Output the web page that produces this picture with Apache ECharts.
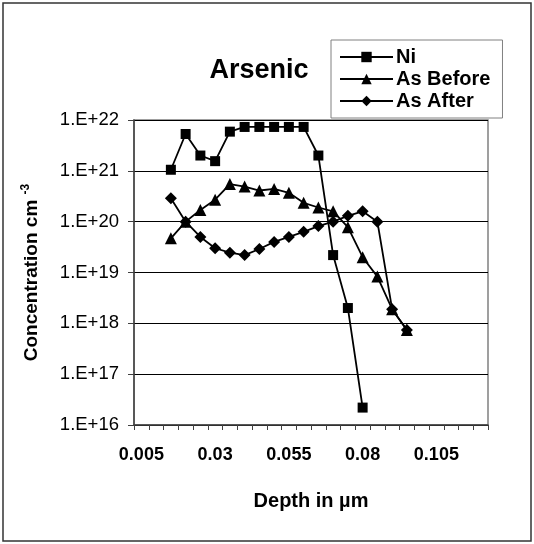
<!DOCTYPE html>
<html>
<head>
<meta charset="utf-8">
<script src="https://cdn.jsdelivr.net/npm/echarts@6/dist/echarts.min.js"></script>
<style>
  html, body { margin: 0; padding: 0; background: #fff; }
  #chart { width: 534px; height: 544px; }
</style>
</head>
<body>
<div id="chart"></div>
<script>
// depth categories (Excel-style category axis, 0.005 step)
const depths = ['0.005','0.01','0.015','0.02','0.025','0.03','0.035','0.04','0.045','0.05',
  '0.055','0.06','0.065','0.07','0.075','0.08','0.085','0.09','0.095','0.1',
  '0.105','0.11','0.115','0.12'];

const ni = [null, null, 1.05e21, 5.3e21, 2.0e21, 1.55e21, 5.9e21, 7.3e21, 7.3e21, 7.3e21,
  7.3e21, 7.3e21, 2.0e21, 2.2e19, 2.0e18, 2.2e16];
const asBefore = [null, null, 4.7e19, 1.0e20, 1.7e20, 2.7e20, 5.5e20, 4.9e20, 4.1e20, 4.4e20,
  3.7e20, 2.35e20, 1.9e20, 1.6e20, 7.8e19, 2.0e19, 8.3e18, 1.9e18, 7.4e17];
const asAfter = [null, null, 2.9e20, 1.0e20, 5.0e19, 3.0e19, 2.45e19, 2.2e19, 2.9e19, 4.0e19,
  5.0e19, 6.3e19, 8.2e19, 1.0e20, 1.3e20, 1.6e20, 1.0e20, 1.9e18, 7.4e17];

const chart = echarts.init(document.getElementById('chart'));

const font = 'Liberation Sans, Arial, sans-serif';

function lineSeries(name, data, symbol, size) {
  return {
    name: name,
    type: 'line',
    data: data,
    symbol: symbol,
    symbolSize: size,
    showAllSymbol: true,
    connectNulls: false,
    lineStyle: { color: '#000', width: 1.8 },
    itemStyle: { color: '#000' },
    emphasis: { disabled: true },
    animation: false
  };
}

chart.setOption({
  backgroundColor: '#fff',
  animation: false,
  title: {
    text: 'Arsenic',
    left: 254,
    top: 52,
    textAlign: 'center',
    textStyle: { fontFamily: font, fontSize: 27, fontWeight: 'bold', color: '#000' }
  },
  legend: {
    orient: 'vertical',
    left: 331,
    top: 40,
    padding: [6, 12, 6, 8],
    itemGap: 0,
    itemWidth: 53,
    itemHeight: 13,
    borderColor: '#808080',
    borderWidth: 1,
    backgroundColor: '#fff',
    textStyle: { fontFamily: font, fontSize: 20, fontWeight: 'bold', color: '#000', lineHeight: 22, padding: [0, 0, 0, -2] },
    data: ['Ni', 'As Before', 'As After']
  },
  grid: { left: 134, right: 46, top: 120, bottom: 119 },
  xAxis: {
    type: 'category',
    data: depths,
    boundaryGap: true,
    name: 'Depth in µm',
    nameLocation: 'middle',
    nameGap: 66,
    nameTextStyle: { fontFamily: font, fontSize: 20, fontWeight: 'bold', color: '#000' },
    axisLine: { lineStyle: { color: '#404040', width: 1.5 } },
    axisTick: { show: true, interval: 0, length: 5, inside: false, lineStyle: { color: '#404040' } },
    axisLabel: {
      interval: 4,
      margin: 21,
      fontFamily: font, fontSize: 18, fontWeight: 'bold', color: '#000'
    },
    splitLine: { show: false }
  },
  yAxis: {
    type: 'log',
    logBase: 10,
    min: 1e16,
    max: 1e22,
    name: '{a|Concentration cm }{s|-3}',
    nameLocation: 'middle',
    nameGap: 90,
    nameRotate: 90,
    nameTextStyle: {
      rich: {
        a: { fontFamily: font, fontSize: 19, fontWeight: 'bold', color: '#000' },
        s: { fontFamily: font, fontSize: 12, fontWeight: 'bold', color: '#000', padding: [0, 0, 12, 0] }
      }
    },
    axisLine: { show: true, lineStyle: { color: '#404040', width: 1.5 } },
    axisTick: { show: true, length: 6, lineStyle: { color: '#404040' } },
    minorTick: { show: false },
    axisLabel: {
      margin: 15,
      fontFamily: font, fontSize: 18.5, color: '#000',
      formatter: function (v) { return '1.E+' + Math.round(Math.log10(v)); }
    },
    splitLine: { show: true, lineStyle: { color: '#000', width: 1 } }
  },
  graphic: [
    {
      type: 'rect',
      shape: { x: 134, y: 120, width: 354, height: 305 },
      style: { fill: null, stroke: '#808080', lineWidth: 1.5 },
      silent: true,
      z: -1
    },
    {
      type: 'rect',
      shape: { x: 3, y: 3, width: 528, height: 538 },
      style: { fill: null, stroke: '#333', lineWidth: 1.5 },
      silent: true
    }
  ],
  series: [
    lineSeries('Ni', ni, 'rect', 10),
    lineSeries('As Before', asBefore, 'triangle', 12),
    lineSeries('As After', asAfter, 'diamond', 12)
  ]
});
</script>
</body>
</html>
